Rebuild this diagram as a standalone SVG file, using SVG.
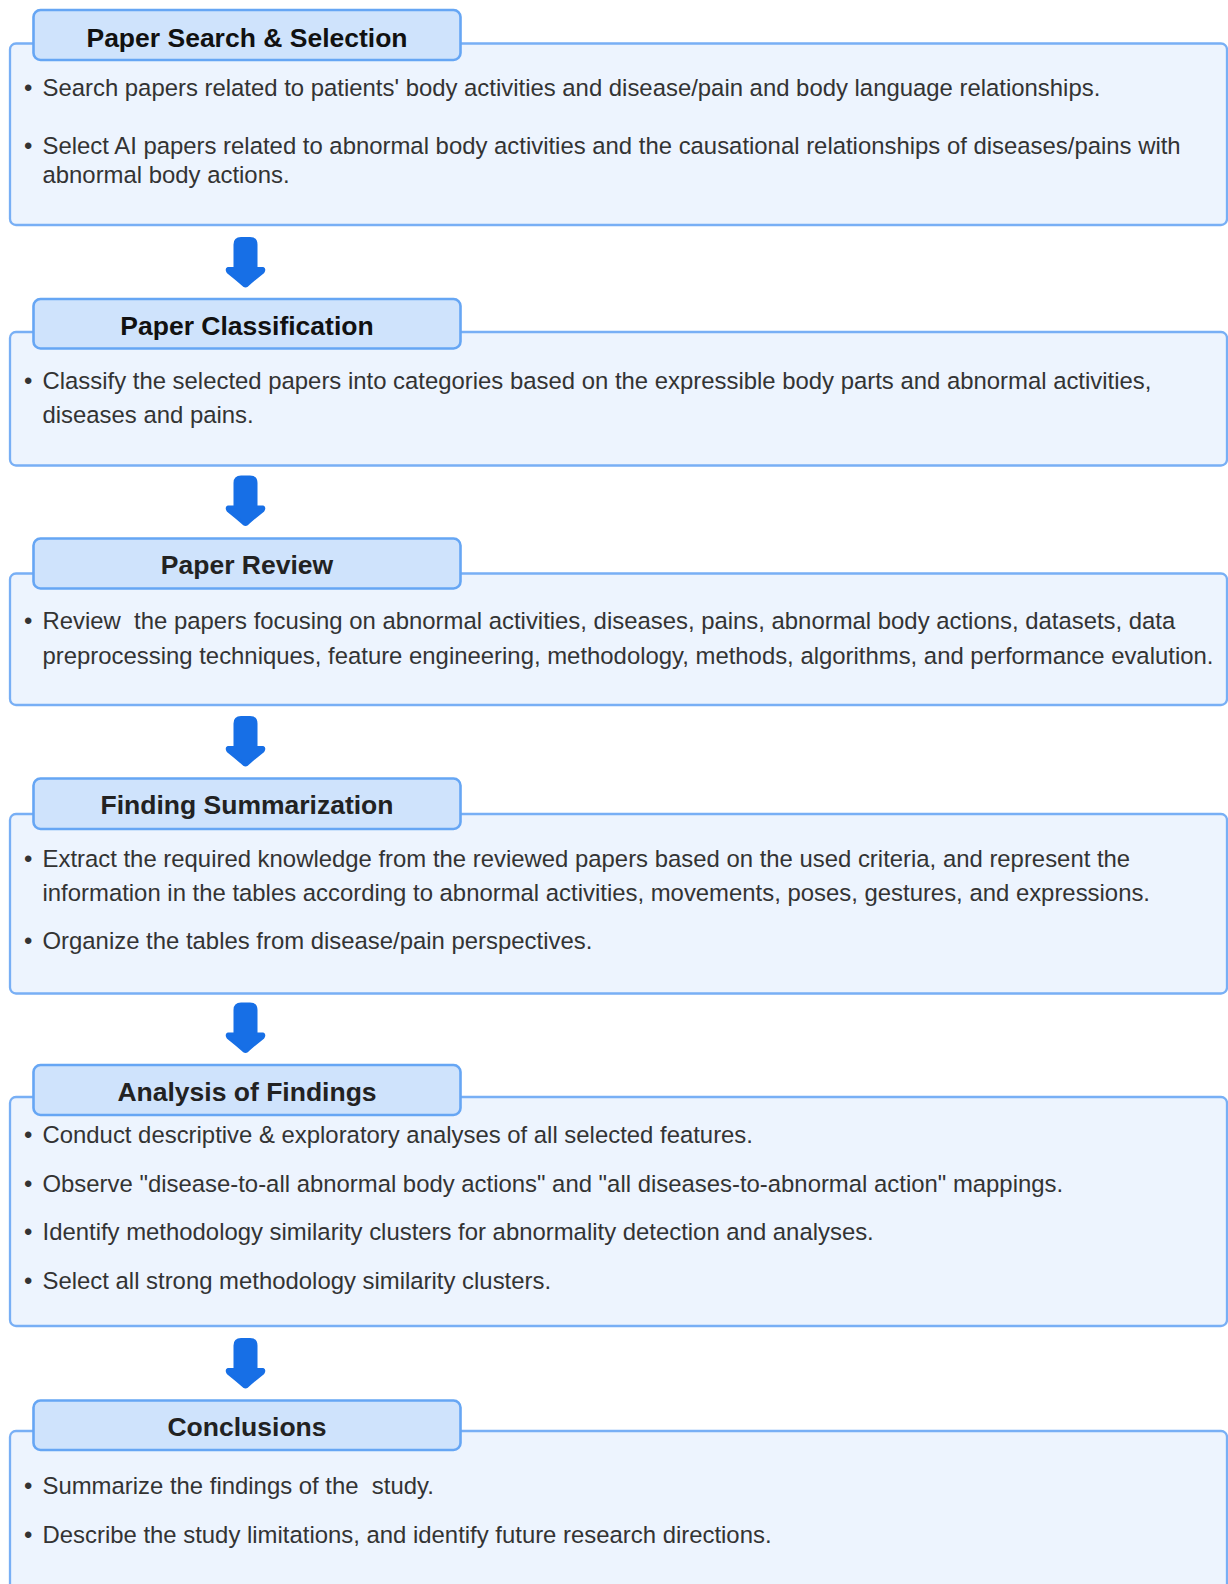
<svg xmlns="http://www.w3.org/2000/svg" width="1228" height="1584" viewBox="0 0 1228 1584">
<defs>
<style>
.body{fill:#edf4fe;stroke:#78aff5;stroke-width:2.3}
.head{fill:#cfe3fc;stroke:#66a6f4;stroke-width:2.6}
.title{font-family:"Liberation Sans",Arial,sans-serif;font-weight:bold;font-size:26.5px;text-anchor:middle;fill:#222}
.t{font-family:"Liberation Sans",Arial,sans-serif;font-size:23.9px;fill:#333;white-space:pre}
.arrow{fill:#176fe6;stroke:#176fe6;stroke-width:3;stroke-linejoin:round}
</style>
<path id="arr" d="M -10.5,6 Q -10.5,0 -4.5,0 L 4.5,0 Q 10.5,0 10.5,6 L 10.5,30 L 17.5,30 Q 19,31 17.5,33.5 Q 8,41 1.5,47 Q 0,48 -1.5,47 Q -8,41 -17.5,33.5 Q -19,31 -17.5,30 L -10.5,30 Z"/>
</defs>
<rect width="1228" height="1584" fill="#ffffff"/>

<g id="connectors">
<use href="#arr" class="arrow" x="245.5" y="238.5"/>
<use href="#arr" class="arrow" x="245.5" y="477"/>
<use href="#arr" class="arrow" x="245.5" y="717.5"/>
<use href="#arr" class="arrow" x="245.5" y="1004"/>
<use href="#arr" class="arrow" x="245.5" y="1339.5"/>
</g>

<g id="node-search">
<rect class="body" x="10" y="43.5" width="1217" height="181.5" rx="6"/>
<rect class="head" x="33.5" y="10" width="427" height="50" rx="7"/>
<text class="title" x="247" y="46.5" style="fill:#111">Paper Search &amp; Selection</text>
<text class="t" x="24" y="96">•</text>
<text class="t" x="42.5" y="96">Search papers related to patients' body activities and disease/pain and body language relationships.</text>
<text class="t" x="24" y="153.5">•</text>
<text class="t" x="42.5" y="153.5">Select AI papers related to abnormal body activities and the causational relationships of diseases/pains with</text>
<text class="t" x="42.5" y="182.5">abnormal body actions.</text>
</g>

<g id="node-classification">
<rect class="body" x="10" y="332" width="1217" height="133.5" rx="6"/>
<rect class="head" x="33.5" y="299" width="427" height="49.5" rx="7"/>
<text class="title" x="247" y="335.2" style="fill:#111">Paper Classification</text>
<text class="t" x="24" y="388.5">•</text>
<text class="t" x="42.5" y="388.5">Classify the selected papers into categories based on the expressible body parts and abnormal activities,</text>
<text class="t" x="42.5" y="423">diseases and pains.</text>
</g>

<g id="node-review">
<rect class="body" x="10" y="573.5" width="1217" height="131.5" rx="6"/>
<rect class="head" x="33.5" y="538.5" width="427" height="50" rx="7"/>
<text class="title" x="247" y="573.5">Paper Review</text>
<text class="t" x="24" y="629">•</text>
<text class="t" x="42.5" y="629" xml:space="preserve">Review  the papers focusing on abnormal activities, diseases, pains, abnormal body actions, datasets, data</text>
<text class="t" x="42.5" y="663.5">preprocessing techniques, feature engineering, methodology, methods, algorithms, and performance evalution.</text>
</g>

<g id="node-summarization">
<rect class="body" x="10" y="814" width="1217" height="179.5" rx="6"/>
<rect class="head" x="33.5" y="778.5" width="427" height="50.5" rx="7"/>
<text class="title" x="247" y="814">Finding Summarization</text>
<text class="t" x="24" y="866.5">•</text>
<text class="t" x="42.5" y="866.5">Extract the required knowledge from the reviewed papers based on the used criteria, and represent the</text>
<text class="t" x="42.5" y="901">information in the tables according to abnormal activities, movements, poses, gestures, and expressions.</text>
<text class="t" x="24" y="949">•</text>
<text class="t" x="42.5" y="949">Organize the tables from disease/pain perspectives.</text>
</g>

<g id="node-analysis">
<rect class="body" x="10" y="1097" width="1217" height="229" rx="6"/>
<rect class="head" x="33.5" y="1065" width="427" height="50" rx="7"/>
<text class="title" x="247" y="1100.7">Analysis of Findings</text>
<text class="t" x="24" y="1143">•</text>
<text class="t" x="42.5" y="1143">Conduct descriptive &amp; exploratory analyses of all selected features.</text>
<text class="t" x="24" y="1191.5">•</text>
<text class="t" x="42.5" y="1191.5">Observe "disease-to-all abnormal body actions" and "all diseases-to-abnormal action" mappings.</text>
<text class="t" x="24" y="1240">•</text>
<text class="t" x="42.5" y="1240">Identify methodology similarity clusters for abnormality detection and analyses.</text>
<text class="t" x="24" y="1288.5">•</text>
<text class="t" x="42.5" y="1288.5">Select all strong methodology similarity clusters.</text>
</g>

<g id="node-conclusions">
<rect class="body" x="10" y="1431" width="1217" height="200" rx="6"/>
<rect class="head" x="33.5" y="1400.5" width="427" height="49.5" rx="7"/>
<text class="title" x="247" y="1436">Conclusions</text>
<text class="t" x="24" y="1493.5">•</text>
<text class="t" x="42.5" y="1493.5" xml:space="preserve">Summarize the findings of the  study.</text>
<text class="t" x="24" y="1543">•</text>
<text class="t" x="42.5" y="1543">Describe the study limitations, and identify future research directions.</text>
</g>
</svg>
